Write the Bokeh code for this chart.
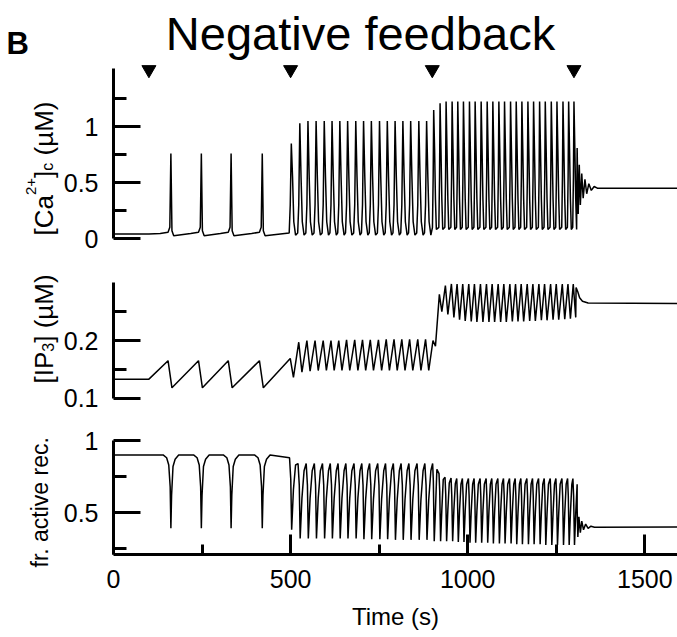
import math
from bokeh.plotting import figure
from bokeh.models import Range1d, FixedTicker, Label, NumeralTickFormatter, LinearAxis
from bokeh.embed import file_html
from bokeh.resources import INLINE

FONT = "Liberation Sans"

# ------------------------------------------------------------------
# Data
# ------------------------------------------------------------------
stim_times = [100, 500, 900, 1300]          # stimulus steps (triangles)

# spike times (s) in the three oscillation regimes
spk_t1 = [162, 248, 332, 420]
spk_t2 = [502, 526, 549, 572, 595, 617, 639, 661, 684, 706, 728, 751,
          773, 795, 817, 839, 862, 884]
spk_t3 = [904, 922, 939, 956, 972, 988, 1005, 1021, 1038, 1055, 1071, 1088,
          1104, 1121, 1137, 1153, 1170, 1186, 1203, 1219, 1236, 1252, 1269,
          1285, 1300]

# [Ca2+]c (uM)
ca_rest = 0.04
ca_pk1 = [0.76, 0.76, 0.76, 0.76]
ca_pk2 = [0.85, 1.03, 1.05, 1.05, 1.05, 1.05, 1.05, 1.05, 1.05, 1.05, 1.05,
          1.05, 1.05, 1.05, 1.05, 1.05, 1.05, 1.05]
ca_pk3 = [1.15, 1.21, 1.225, 1.225, 1.225, 1.225, 1.225, 1.225, 1.225, 1.225,
          1.225, 1.225, 1.225, 1.225, 1.225, 1.225, 1.225, 1.225, 1.225,
          1.225, 1.225, 1.225, 1.225, 1.225, 1.225]
ca_tail_t = [1309, 1312, 1315, 1318, 1322, 1326, 1331, 1336, 1342, 1349,
             1357, 1366, 1600]
ca_tail_v = [0.81, 0.22, 0.66, 0.30, 0.58, 0.36, 0.53, 0.40, 0.49, 0.43,
             0.465, 0.45, 0.45]

# [IP3] (uM)
ip3_rest = 0.133
ip3_pk1 = [0.165, 0.165, 0.165, 0.165]
ip3_tr1 = [0.118, 0.118, 0.118, 0.118]
ip3_pk2 = [0.169, 0.197, 0.200, 0.200, 0.200, 0.200, 0.200, 0.201, 0.201,
           0.201, 0.201, 0.201, 0.202, 0.202, 0.202, 0.202, 0.202, 0.202]
ip3_tr2 = [0.136, 0.145, 0.147, 0.148, 0.148, 0.148, 0.148, 0.148, 0.148,
           0.148, 0.148, 0.148, 0.148, 0.148, 0.148, 0.148, 0.148, 0.148]
ip3_pk3 = [0.200, 0.280, 0.295, 0.298, 0.298, 0.298, 0.298, 0.298, 0.298,
           0.298, 0.298, 0.298, 0.298, 0.298, 0.298, 0.298, 0.298, 0.298,
           0.298, 0.298, 0.298, 0.298, 0.298, 0.298, 0.298]
ip3_tr3 = [0.190, 0.250, 0.245, 0.240, 0.236, 0.234, 0.233, 0.232, 0.232,
           0.232, 0.232, 0.232, 0.232, 0.233, 0.233, 0.233, 0.234, 0.234,
           0.235, 0.235, 0.236, 0.236, 0.237, 0.238, 0.240]
ip3_tail_t = [1306, 1311, 1316, 1324, 1340, 1600]
ip3_tail_v = [0.292, 0.284, 0.274, 0.268, 0.265, 0.264]

# fraction of active receptors
rec_rest = 0.90
rec_tr1 = [0.39, 0.39, 0.39, 0.39]
rec_pk2 = [0.88, 0.84, 0.84, 0.84, 0.84, 0.84, 0.84, 0.84, 0.84, 0.84, 0.84,
           0.84, 0.84, 0.84, 0.84, 0.84, 0.84, 0.84]
rec_tr2 = [0.38, 0.32, 0.32, 0.32, 0.32, 0.32, 0.32, 0.32, 0.32, 0.315,
           0.315, 0.315, 0.315, 0.31, 0.31, 0.31, 0.31, 0.31]
rec_pk3 = [0.84, 0.77, 0.745, 0.74, 0.736, 0.736, 0.736, 0.736, 0.736,
           0.736, 0.736, 0.736, 0.736, 0.736, 0.736, 0.736, 0.736, 0.736,
           0.736, 0.736, 0.736, 0.736, 0.736, 0.736, 0.736]
rec_tr3 = [0.30, 0.30, 0.30, 0.30, 0.295, 0.295, 0.29, 0.29, 0.29, 0.29,
           0.285, 0.285, 0.285, 0.285, 0.28, 0.28, 0.28, 0.28, 0.28, 0.275,
           0.275, 0.275, 0.275, 0.275, 0.275]
rec_tail_t = [1309, 1311, 1314, 1318, 1322, 1327, 1333, 1340, 1348, 1358, 1600]
rec_tail_v = [0.53, 0.33, 0.47, 0.36, 0.44, 0.38, 0.42, 0.39, 0.405, 0.398, 0.40]

# axis ticks
x_ticks = [0, 500, 1000, 1500]
x_minor = [250, 750, 1250]
ca_ticks, ca_minor = [0, 0.5, 1], [0.25, 0.75, 1.25]
ip3_ticks, ip3_minor = [0.1, 0.2], [0.15, 0.25]
rec_ticks, rec_minor = [0.5, 1], [0.25, 0.75]


# ------------------------------------------------------------------
# Build the traces (vertices from the values above)
# ------------------------------------------------------------------
def ca_trace():
    t, v = [0, 100], [ca_rest, ca_rest]
    for ts, pk in zip(spk_t1, ca_pk1):
        t += [ts - 30, ts - 8, ts - 3, ts, ts + 3, ts + 8]
        v += [0.045, 0.055, 0.10, pk, 0.07, 0.025]
    for ts, pk in zip(spk_t2, ca_pk2):
        t += [ts - 6, ts - 3, ts, ts + 3.5, ts + 7, ts + 12]
        v += [0.05, 0.3, pk, 0.55, 0.15, 0.03]
    for ts, pk in zip(spk_t3, ca_pk3):
        t += [ts - 3.5, ts - 1.5, ts, ts + 2.5, ts + 5, ts + 7.5]
        v += [0.1, 0.55, pk, 0.8, 0.35, 0.08]
    return t + ca_tail_t, v + ca_tail_v


def ip3_trace():
    t, v = [0, 100], [ip3_rest, ip3_rest]
    for ts, pk, tr in zip(spk_t1, ip3_pk1, ip3_tr1):
        t += [ts - 8, ts + 3]
        v += [pk, tr]
    for ts, pk, tr in zip(spk_t2, ip3_pk2, ip3_tr2):
        t += [ts - 3, ts + 6]
        v += [pk, tr]
    for ts, pk, tr in zip(spk_t3, ip3_pk3, ip3_tr3):
        t += [ts - 2, ts + 5]
        v += [pk, tr]
    return t + ip3_tail_t, v + ip3_tail_v


def rec_trace():
    t, v = [0], [rec_rest]
    for ts, tr in zip(spk_t1, rec_tr1):
        t += [ts - 22, ts - 12, ts - 6, ts - 2, ts, ts + 2, ts + 6, ts + 12, ts + 22]
        v += [rec_rest, 0.88, 0.83, 0.68, tr, 0.62, 0.82, 0.87, rec_rest]
    for ts, pk, tr in zip(spk_t2, rec_pk2, rec_tr2):
        t += [ts - 5, ts - 1.5, ts + 1, ts + 6, ts + 12]
        v += [pk, pk - 0.15, tr, tr + 0.28, pk - 0.05]
    for ts, pk, tr in zip(spk_t3, rec_pk3, rec_tr3):
        t += [ts - 3, ts - 1, ts + 1.5, ts + 5, ts + 9]
        v += [pk, pk - 0.12, tr, tr + 0.22, pk - 0.04]
    return t + rec_tail_t, v + rec_tail_v


# ------------------------------------------------------------------
# Geometry: one frame covering the whole 677 x 637 page
# ------------------------------------------------------------------
W, H = 677, 637
X0 = 113                 # pixel of t = 0
PXS = 0.3542             # pixels per second


def xd(px):
    return (px - X0) / PXS


def ca_y(py):
    return (238 - py) / 111.8


def ip3_y(py):
    return 0.1 + (397.7 - py) / 577.0


def rec_y(py):
    return 1 + (440 - py) / 144.0


X_AXIS_Y = rec_y(554)

p = figure(width=W, height=H, output_backend="svg", toolbar_location=None,
           x_range=Range1d(xd(0), xd(W)), y_range=Range1d(rec_y(H), rec_y(0)),
           x_axis_type=None, y_axis_type=None,
           min_border=0, min_border_left=0, min_border_right=0,
           min_border_top=0, min_border_bottom=0)
p.extra_y_ranges = {"ca": Range1d(ca_y(H), ca_y(0)),
                    "ip3": Range1d(ip3_y(H), ip3_y(0))}
p.outline_line_color = None
p.background_fill_color = "white"
p.border_fill_color = "white"


def make_axis(cls_kwargs, ticks, minor, bounds, tin, tmin, standoff):
    ax = LinearAxis(**cls_kwargs)
    ax.ticker = FixedTicker(ticks=ticks, minor_ticks=minor)
    ax.formatter = NumeralTickFormatter(format="0.[0]")
    ax.bounds = bounds
    ax.axis_line_width = 3
    ax.axis_line_color = "black"
    ax.major_tick_line_width = 3
    ax.minor_tick_line_width = 3
    ax.major_tick_line_color = "black"
    ax.minor_tick_line_color = "black"
    ax.major_tick_in = tin
    ax.major_tick_out = 0
    ax.minor_tick_in = tmin
    ax.minor_tick_out = 0
    ax.major_label_standoff = standoff
    ax.major_label_text_font = FONT
    ax.major_label_text_font_size = "25px"
    ax.major_label_text_color = "black"
    return ax


p.add_layout(make_axis(dict(y_range_name="ca", fixed_location=0),
                       ca_ticks, ca_minor, (0, 1.52), 27, 13, 15), "left")
p.add_layout(make_axis(dict(y_range_name="ip3", fixed_location=0),
                       ip3_ticks, ip3_minor, (0.1, 0.3), 27, 13, 15), "left")
p.add_layout(make_axis(dict(fixed_location=0),
                       rec_ticks, rec_minor, (X_AXIS_Y, 1.0), 27, 13, 15), "left")
p.add_layout(make_axis(dict(fixed_location=X_AXIS_Y),
                       x_ticks, x_minor, (0, xd(W)), 20, 10, 15), "below")

LW = 1.5
ct, cv = ca_trace()
p.line(ct, cv, line_color="black", line_width=LW, y_range_name="ca")
it, iv = ip3_trace()
p.line(it, iv, line_color="black", line_width=LW, y_range_name="ip3")
rt, rv = rec_trace()
p.line(rt, rv, line_color="black", line_width=LW)
p.scatter(stim_times, [1.51] * len(stim_times), marker="inverted_triangle",
          size=14, color="black", y_range_name="ca")


def label(text, px, py, size, align="left", angle=0.0, style="normal"):
    p.add_layout(Label(x=xd(px), y=rec_y(py), text=text, angle=angle,
                       text_font=FONT, text_font_size=f"{size}px",
                       text_font_style=style, text_color="black",
                       text_align=align, text_baseline="alphabetic"))


label("Negative feedback", 360, 33, 47, align="center")
label("B", 6, 43, 31, style="bold")
label("Time (s)", 395, 616, 24, align="center")

# Arial / Liberation Sans advance widths (em) for placing label pieces
ADV = {'[': 0.278, ']': 0.278, 'C': 0.722, 'a': 0.556, '2': 0.556, '+': 0.584,
       'c': 0.5, ' ': 0.278, '(': 0.333, ')': 0.333, 'µ': 0.576, 'M': 0.833,
       'I': 0.278, 'P': 0.667, '3': 0.556}


def rotated_label(pieces, base_px, start_py):
    py = start_py
    for txt, size, shift in pieces:
        if txt.strip():
            label(txt, base_px - shift, py, size, angle=math.pi / 2)
        py -= sum(ADV[c] for c in txt) * size


rotated_label([("[Ca", 26, 0), ("2+", 15, 13), ("]", 26, 0),
               ("c", 16, -4), (" ", 26, 0), ("(µM)", 26, 0)], 43, 235)
rotated_label([("[IP", 26, 0), ("3", 16, -4), ("]", 26, 0),
               (" ", 26, 0), ("(µM)", 26, 0)], 43, 383)
label("fr. active rec.", 39, 567, 23, angle=math.pi / 2)

open("out.html", "w").write(file_html(p, INLINE))
